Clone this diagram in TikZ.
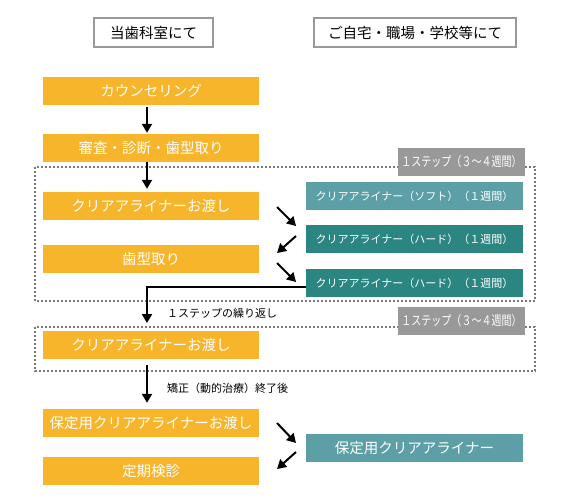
\documentclass[tikz,border=0pt]{standalone}
\usepackage{fontspec}
\setmainfont{Noto Sans CJK JP}
\usetikzlibrary{arrows.meta,positioning}
\definecolor{boxorange}{RGB}{247,181,43}
\definecolor{teallight}{RGB}{92,159,167}
\definecolor{tealdark}{RGB}{43,133,128}
\definecolor{labelgray}{RGB}{153,153,153}
\definecolor{framegray}{RGB}{120,120,120}
\newcommand\steptext{\scalebox{0.77}[1]{１ステップ（３～４週間）}}

\begin{document}
\begin{tikzpicture}[x=1pt,y=-1pt]
\tikzset{orangebox/.style ={fill=boxorange,text=white,minimum width=216pt,minimum height=28pt,inner sep=0pt,font=\fontsize{14.5}{16}\selectfont},
 softbox/.style ={fill=teallight,text=white,minimum width=217pt,minimum height=28pt,inner sep=0pt,font=\fontsize{11}{13}\selectfont},
 hardbox/.style ={softbox,fill=tealdark},
 headbox/.style ={draw=labelgray,line width=2pt,minimum height=29pt,inner sep=0pt,font=\fontsize{14.5}{16}\selectfont},
 steplabel/.style ={fill=labelgray,text=white,minimum width=127pt,minimum height=28pt,inner sep=0pt,font=\fontsize{13}{14}\selectfont},
 note/.style ={anchor=west,inner sep=0pt,font=\fontsize{11}{13}\selectfont},
 stepframe/.style ={draw=framegray,line width=1.3pt,dash pattern=on 2pt off 2pt},
 arr/.style ={-{Triangle[length=9pt,width=10pt]},line width=2pt}}
\useasboundingbox (0,0) rectangle (570,500);
% headings
\node[headbox,minimum width=119pt] (clinic) at (153.5,32.5) {当歯科室にて};
\node[headbox,minimum width=202pt] (home) at (415,32.5) {ご自宅・職場・学校等にて};
% step frames
\draw[stepframe] (35,167) rectangle (535,301);
\draw[stepframe] (35,327) rectangle (535,371);
\node[steplabel] (step1) at (461.5,162) {\steptext};
\node[steplabel] (step2) at (461.5,320.5) {\steptext};
% clinic column
\node[orangebox] (counsel) at (151,91) {カウンセリング};
\node[orangebox] (exam) at (151,148) {審査・診断・歯型取り};
\node[orangebox] (hand1) at (151,206) {クリアアライナーお渡し};
\node[orangebox] (mould) at (151,259) {歯型取り};
\node[orangebox] (hand2) at (151,345) {クリアアライナーお渡し};
\node[orangebox] (retain) at (151,423) {保定用クリアアライナーお渡し};
\node[orangebox] (check) at (151,471) {定期検診};
% home column
\node[softbox] (soft) at (414.5,196) {クリアアライナー（ソフト）（１週間）};
\node[hardbox] (hard1) at (414.5,239) {クリアアライナー（ハード）（１週間）};
\node[hardbox] (hard2) at (414.5,283) {クリアアライナー（ハード）（１週間）};
\node[softbox,font=\fontsize{14.5}{16}\selectfont] (keep) at (414.5,448) {保定用クリアアライナー};
% notes
\node[note] (repeat) at (167,313) {１ステップの繰り返し};
\node[note] (after) at (167,388) {矯正（動的治療）終了後};
% arrows
\coordinate (rep) at (147,323);
\draw[arr,shorten <=2pt,shorten >=1pt] ([xshift=-4pt]counsel.south) -- ([xshift=-4pt]exam.north);
\draw[arr,shorten >=3pt] ([xshift=-4pt]exam.south) -- ([xshift=-4pt]hand1.north);
\draw[arr] ([yshift=-4pt]hard2.west) -| (rep);
\draw[arr,shorten <=6pt,shorten >=6pt] ([xshift=-4pt]hand2.south) -- ([xshift=-4pt]retain.north);
\coordinate (a1) at (277,207); \coordinate (b1) at (296,226);
\coordinate (a2) at (296,236); \coordinate (b2) at (277,253);
\coordinate (a3) at (277,263); \coordinate (b3) at (296,282);
\coordinate (a4) at (277,423); \coordinate (b4) at (296,443);
\coordinate (a5) at (296,452); \coordinate (b5) at (277,469);
\foreach \s/\e in {a1/b1,a2/b2,a3/b3,a4/b4,a5/b5}
  \draw[arr] (\s) -- (\e);
\end{tikzpicture}
\end{document}
